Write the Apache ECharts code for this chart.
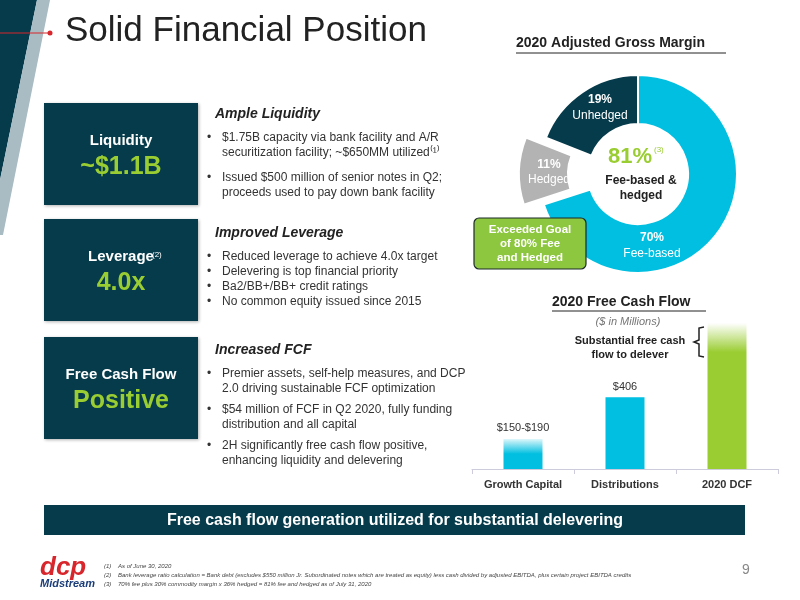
<!DOCTYPE html>
<html><head><meta charset="utf-8">
<script src="https://cdn.jsdelivr.net/npm/echarts@6/dist/echarts.min.js"></script>
<style>html,body{margin:0;padding:0;background:#fff}#c{width:800px;height:600px}</style>
</head><body><div id="c"></div>
<script>
const marginNames = ['Fee-based', 'Hedged', 'Unhedged'];
const marginValues = [70, 11, 19];
const fcfCategories = ['Growth Capital', 'Distributions', '2020 DCF'];
const fcfValues = [170, 406, 825];
const fcfLabels = ['$150-$190', '$406', ''];

const F = '"Liberation Sans", Arial, sans-serif';
const NAVY = '#053b4b', CYAN = '#00bfe0', GREEN = '#9acd32';
const G = echarts.graphic;
const chart = echarts.init(document.getElementById('c'));
function txt(x, y, s, o) { return { type: 'text', left: x, top: y, style: Object.assign({ text: s, fill: '#333', font: '12px ' + F }, o || {}) }; }
const els = [];
// left decoration
els.push({ type: 'polygon', shape: { points: [[0,0],[37,0],[0,180]] }, style: { fill: NAVY } });
els.push({ type: 'polygon', shape: { points: [[37,0],[50,0],[3,235],[0,235],[0,180]] }, style: { fill: '#a9bcc3' } });
els.push({ type: 'line', shape: { x1: 0, y1: 33, x2: 50, y2: 33 }, style: { stroke: '#d7262c', lineWidth: 1.2 } });
els.push({ type: 'circle', shape: { cx: 50, cy: 33, r: 2.5 }, style: { fill: '#d7262c' } });
els.push(txt(65, 14, 'Solid Financial Position', { font: '35px ' + F, fill: '#222' }));
// left boxes
const boxes = [[103, 'Liquidity', '~$1.1B'], [219, 'Leverage', '4.0x'], [337, 'Free Cash Flow', 'Positive']];
boxes.forEach(b => {
  els.push({ type: 'rect', shape: { x: 44, y: b[0], width: 154, height: 102 }, style: { fill: NAVY, shadowBlur: 3, shadowColor: 'rgba(0,0,0,0.3)', shadowOffsetX: 1, shadowOffsetY: 1 } });
  els.push({ type: 'text', x: 121, y: b[0] + 38, style: { text: b[1], fill: '#fff', font: 'bold 15px ' + F, align: 'center', verticalAlign: 'middle' } });
  els.push({ type: 'text', x: 121, y: b[0] + 64, style: { text: b[2], fill: GREEN, font: 'bold 25px ' + F, align: 'center', verticalAlign: 'middle' } });
});
els.push(txt(152, 251, '(2)', { font: '8px ' + F, fill: '#fff' }));
// headings & bullets
const secs = [[107, 'Ample Liquidity', ['$1.75B capacity via bank facility and A/R', '   securitization facility; ~$650MM utilized⁽¹⁾', '$', 'Issued $500 million of senior notes in Q2;', '   proceeds used to pay down bank facility']],
  [226, 'Improved Leverage', ['Reduced leverage to achieve 4.0x target', 'Delevering is top financial priority', 'Ba2/BB+/BB+ credit ratings', 'No common equity issued since 2015']],
  [343, 'Increased FCF', ['Premier assets, self-help measures, and DCP', '   2.0 driving sustainable FCF optimization', '$54 million of FCF in Q2 2020, fully funding', '   distribution and all capital', '2H significantly free cash flow positive,', '   enhancing liquidity and delevering']]];
secs.forEach(s => {
  els.push(txt(215, s[0], s[1], { font: 'italic bold 14px ' + F, fill: '#222' }));
  let y = s[0] + 25;
  s[2].forEach(l => {
    if (l === '$') { y += 4; return; }
    const cont = l.startsWith('   ');
    if (!cont) els.push(txt(207, y, '•', { font: '12px ' + F }));
    els.push(txt(222, y, l.trim(), { font: '12px ' + F, fill: '#333' }));
    y += cont ? 21 : 15;
  });
});
// donut annotations
els.push(txt(516, 36, '2020 Adjusted Gross Margin', { font: 'bold 14px ' + F, fill: '#222' }));
els.push({ type: 'line', shape: { x1: 516, y1: 53, x2: 726, y2: 53 }, style: { stroke: '#222', lineWidth: 1 } });
function ctext(x, y, s, font, fill) { els.push({ type: 'text', x: x, y: y, z: 100, style: { text: s, fill: fill, font: font + ' ' + F, align: 'center', verticalAlign: 'middle' } }); }
ctext(600, 100, '19%', 'bold 12px', '#fff');
ctext(600, 116, 'Unhedged', '12px', '#fff');
ctext(549, 165, '11%', 'bold 12px', '#fff');
ctext(549, 180, 'Hedged', '12px', '#fff');
ctext(652, 238, '70%', 'bold 12px', '#fff');
ctext(652, 254, 'Fee-based', '12px', '#fff');
ctext(630, 157, '81%', 'bold 22px', GREEN);
els.push({ type: 'text', left: 654, top: 146, z: 100, style: { text: '(3)', font: '8px ' + F, fill: GREEN } });
ctext(641, 181, 'Fee-based &', 'bold 12px', '#222');
ctext(641, 196, 'hedged', 'bold 12px', '#222');
els.push({ type: 'rect', z: 100, shape: { x: 474, y: 218, width: 112, height: 51, r: 5 }, style: { fill: '#8dc63f', stroke: '#1d2a2a', lineWidth: 1.2 } });
['Exceeded Goal', 'of 80% Fee', 'and Hedged'].forEach((l, i) => ctext(530, 230 + i * 14, l, 'bold 11.5px', '#fff'));
// bar annotations
els.push(txt(552, 295, '2020 Free Cash Flow', { font: 'bold 14px ' + F, fill: '#222' }));
els.push({ type: 'line', shape: { x1: 552, y1: 311, x2: 706, y2: 311 }, style: { stroke: '#222', lineWidth: 1 } });
ctext(628, 322, '($ in Millions)', 'italic 11px', '#777');
ctext(630, 341, 'Substantial free cash', 'bold 11px', '#222');
ctext(630, 355, 'flow to delever', 'bold 11px', '#222');
els.push({ type: 'polyline', z: 100, shape: { points: [[704, 327], [699, 328], [699, 340], [694, 342], [699, 344], [699, 356], [704, 357]] }, style: { stroke: '#222', lineWidth: 1.5, fill: null } });
// banner
els.push({ type: 'rect', shape: { x: 44, y: 505, width: 701, height: 30 }, style: { fill: NAVY } });
ctext(395, 521, 'Free cash flow generation utilized for substantial delevering', 'bold 16px', '#fff');
// footer
els.push(txt(40, 555, 'dcp', { font: 'bold italic 26px ' + F, fill: '#d7262c' }));
els.push(txt(40, 578, 'Midstream', { font: 'bold italic 11px ' + F, fill: '#1b3d7a' }));
['(1)    As of June 30, 2020', '(2)    Bank leverage ratio calculation = Bank debt (excludes $550 million Jr. Subordinated notes which are treated as equity) less cash divided by adjusted EBITDA, plus certain project EBITDA credits', '(3)    70% fee plus 30% commodity margin x 36% hedged = 81% fee and hedged as of July 31, 2020'].forEach((l, i) =>
  els.push(txt(104, 563 + i * 9, l, { font: 'italic 6px ' + F, fill: '#444' })));
els.push(txt(742, 563, '9', { font: '14px ' + F, fill: '#888' }));

const barColors = [
  new G.LinearGradient(0, 0, 0, 1, [{ offset: 0, color: '#e0f7fb' }, { offset: 0.5, color: CYAN }, { offset: 1, color: CYAN }]),
  CYAN,
  new G.LinearGradient(0, 0, 0, 1, [{ offset: 0, color: '#ffffff' }, { offset: 0.2, color: GREEN }, { offset: 1, color: GREEN }])
];
const pieColors = [CYAN, '#b3b3b3', NAVY];
chart.setOption({
  animation: false,
  grid: { left: 472, right: 22, top: 323, bottom: 131 },
  xAxis: { type: 'category', data: fcfCategories, axisLine: { lineStyle: { color: '#ccd' } }, axisTick: { show: true, lineStyle: { color: '#ccd' } },
    axisLabel: { color: '#333', fontWeight: 'bold', fontSize: 11, fontFamily: F, margin: 10 } },
  yAxis: { type: 'value', min: 0, max: 825, show: false, splitLine: { show: false } },
  series: [
    { type: 'bar', barWidth: 39, data: fcfValues.map((v, i) => ({ value: v, itemStyle: { color: barColors[i] } })),
      label: { show: true, position: 'top', color: '#333', fontSize: 11, fontFamily: F, formatter: p => fcfLabels[p.dataIndex] } },
    { type: 'pie', center: [638, 174], radius: [50, 99], startAngle: 90, clockwise: true, label: { show: false },
      data: marginValues.map((v, i) => ({ name: marginNames[i], value: v, itemStyle: { color: i === 1 ? 'rgba(0,0,0,0)' : pieColors[i], borderColor: i === 1 ? 'rgba(0,0,0,0)' : '#fff', borderWidth: 2 } })) },
    { type: 'pie', center: [618, 174], radius: [50, 99], startAngle: 90, clockwise: true, label: { show: false },
      data: marginValues.map((v, i) => ({ name: marginNames[i], value: v, itemStyle: { color: i === 1 ? pieColors[1] : 'rgba(0,0,0,0)', borderColor: i === 1 ? '#fff' : 'rgba(0,0,0,0)', borderWidth: 2 } })) }
  ],
  graphic: els
});
</script></body></html>
